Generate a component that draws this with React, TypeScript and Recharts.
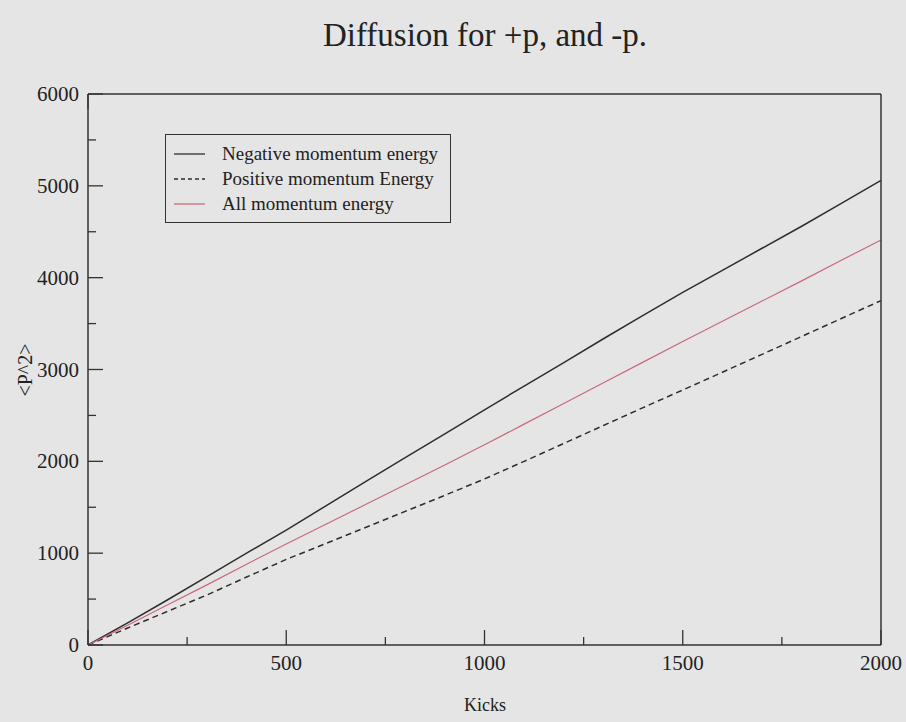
import React from 'react';
import { LineChart, Line, XAxis, YAxis } from 'recharts';

const kicks = [0, 100, 200, 300, 400, 500, 600, 700, 800, 900, 1000, 1100, 1200, 1300, 1400, 1500, 1600, 1700, 1800, 1900, 2000];
const negativeEnergy = [0, 240, 490, 745, 1000, 1252, 1515, 1780, 2040, 2300, 2561, 2820, 3075, 3335, 3590, 3840, 4080, 4320, 4560, 4810, 5060];
const positiveEnergy = [0, 185, 365, 545, 740, 932, 1105, 1280, 1455, 1630, 1808, 2000, 2195, 2390, 2585, 2777, 2970, 3165, 3360, 3555, 3750];
const allEnergy = [0, 215, 435, 655, 880, 1100, 1315, 1530, 1745, 1960, 2180, 2405, 2630, 2855, 3080, 3305, 3525, 3745, 3965, 4190, 4410];

const xTicks = [0, 250, 500, 750, 1000, 1250, 1500, 1750, 2000];
const yTicks = [0, 500, 1000, 1500, 2000, 2500, 3000, 3500, 4000, 4500, 5000, 5500, 6000];

const series = [
  { key: 'neg', name: 'Negative momentum energy', color: '#2e2e2e', dash: undefined },
  { key: 'pos', name: 'Positive momentum Energy', color: '#2e2e2e', dash: '6 4' },
  { key: 'all', name: 'All momentum energy', color: '#c9697c', dash: undefined },
];

const data = kicks.map((k, i) => ({
  kicks: k,
  neg: negativeEnergy[i],
  pos: positiveEnergy[i],
  all: allEnergy[i],
}));

const FONT = '"Liberation Serif", "Times New Roman", serif';
const INK = '#333';
const BG = '#e5e5e5';
const MAJOR = 15;
const MINOR = 8;

// inward tick marks drawn from the axis line; labels only on the major ones
const makeTick = (side: 'bottom' | 'top' | 'left' | 'right', step: number, labels: boolean) =>
  (props: any) => {
    const { x, y, payload } = props;
    const v = payload.value;
    const len = v % step === 0 ? MAJOR : MINOR;
    let x2 = x, y2 = y;
    if (side === 'bottom') y2 = y - len;
    if (side === 'top') y2 = y + len;
    if (side === 'left') x2 = x + len;
    if (side === 'right') x2 = x - len;
    return (
      <g>
        <line x1={x} y1={y} x2={x2} y2={y2} stroke={INK} strokeWidth={1.3} />
        {labels && v % step === 0 && side === 'bottom' && (
          <text x={x} y={y + 25} textAnchor="middle" fontFamily={FONT} fontSize={21} fill="#222">{v}</text>
        )}
        {labels && v % step === 0 && side === 'left' && (
          <text x={x - 9} y={y + 7} textAnchor="end" fontFamily={FONT} fontSize={21} fill="#222">{v}</text>
        )}
      </g>
    );
  };

const DiffusionChart: React.FC = () => {
  return (
    <div style={{ position: 'absolute', left: 0, top: 0, width: 906, height: 722, background: BG, fontFamily: FONT }}>
      <div style={{ position: 'absolute', left: 485, top: 17, transform: 'translateX(-50%)', whiteSpace: 'nowrap', fontSize: 33, color: '#222' }}>
        Diffusion for +p, and -p.
      </div>
      <div
        style={{
          position: 'absolute', left: 25, top: 370, fontSize: 20, color: '#222',
          transform: 'translate(-50%, -50%) rotate(-90deg)', whiteSpace: 'nowrap',
        }}
      >
        {'<P^2>'}
      </div>
      <div
        style={{
          position: 'absolute', left: 485, top: 705, fontSize: 18, lineHeight: '18px', color: '#222',
          transform: 'translate(-50%, -50%)', whiteSpace: 'nowrap',
        }}
      >
        Kicks
      </div>
      <LineChart width={906} height={722} data={data} margin={{ top: 84, right: 15, bottom: 47, left: 58 }}>
        <XAxis
          dataKey="kicks" type="number" domain={[0, 2000]} ticks={xTicks} interval={0}
          height={30} tickSize={0} tickMargin={0} tickLine={false}
          axisLine={{ stroke: INK, strokeWidth: 1.5 }}
          tick={makeTick('bottom', 500, true)}
        />
        <XAxis
          xAxisId="top" orientation="top" type="number" domain={[0, 2000]} ticks={xTicks} interval={0}
          height={10} tickSize={0} tickMargin={0} tickLine={false}
          axisLine={{ stroke: INK, strokeWidth: 1.5 }}
          tick={makeTick('top', 500, false)}
        />
        <YAxis
          type="number" domain={[0, 6000]} ticks={yTicks} interval={0}
          width={30} tickSize={0} tickMargin={0} tickLine={false}
          axisLine={{ stroke: INK, strokeWidth: 1.5 }}
          tick={makeTick('left', 1000, true)}
        />
        <YAxis
          yAxisId="right" orientation="right" type="number" domain={[0, 6000]} ticks={yTicks} interval={0}
          width={10} tickSize={0} tickMargin={0} tickLine={false}
          axisLine={{ stroke: INK, strokeWidth: 1.5 }}
          tick={makeTick('right', 1000, false)}
        />
        {series.map((s) => (
          <Line
            key={s.key}
            dataKey={s.key}
            name={s.name}
            stroke={s.color}
            strokeWidth={s.key === 'all' ? 1.2 : 1.5}
            strokeDasharray={s.dash}
            dot={false}
            type="linear"
            isAnimationActive={false}
          />
        ))}
      </LineChart>
      <div
        style={{
          position: 'absolute', left: 165, top: 134, border: `1px solid ${INK}`,
          padding: '6px 12px 6px 8px', fontSize: 19, color: '#222',
        }}
      >
        {series.map((s) => (
          <div key={s.key} style={{ display: 'flex', alignItems: 'center', height: 25 }}>
            <svg width={31} height={4} style={{ marginRight: 17 }}>
              <line x1={0} y1={2} x2={31} y2={2} stroke={s.color} strokeWidth={1.3} strokeDasharray={s.dash ? '4 3' : undefined} />
            </svg>
            <span style={{ whiteSpace: 'nowrap' }}>{s.name}</span>
          </div>
        ))}
      </div>
    </div>
  );
};

export default function App() {
  return <DiffusionChart />;
}
